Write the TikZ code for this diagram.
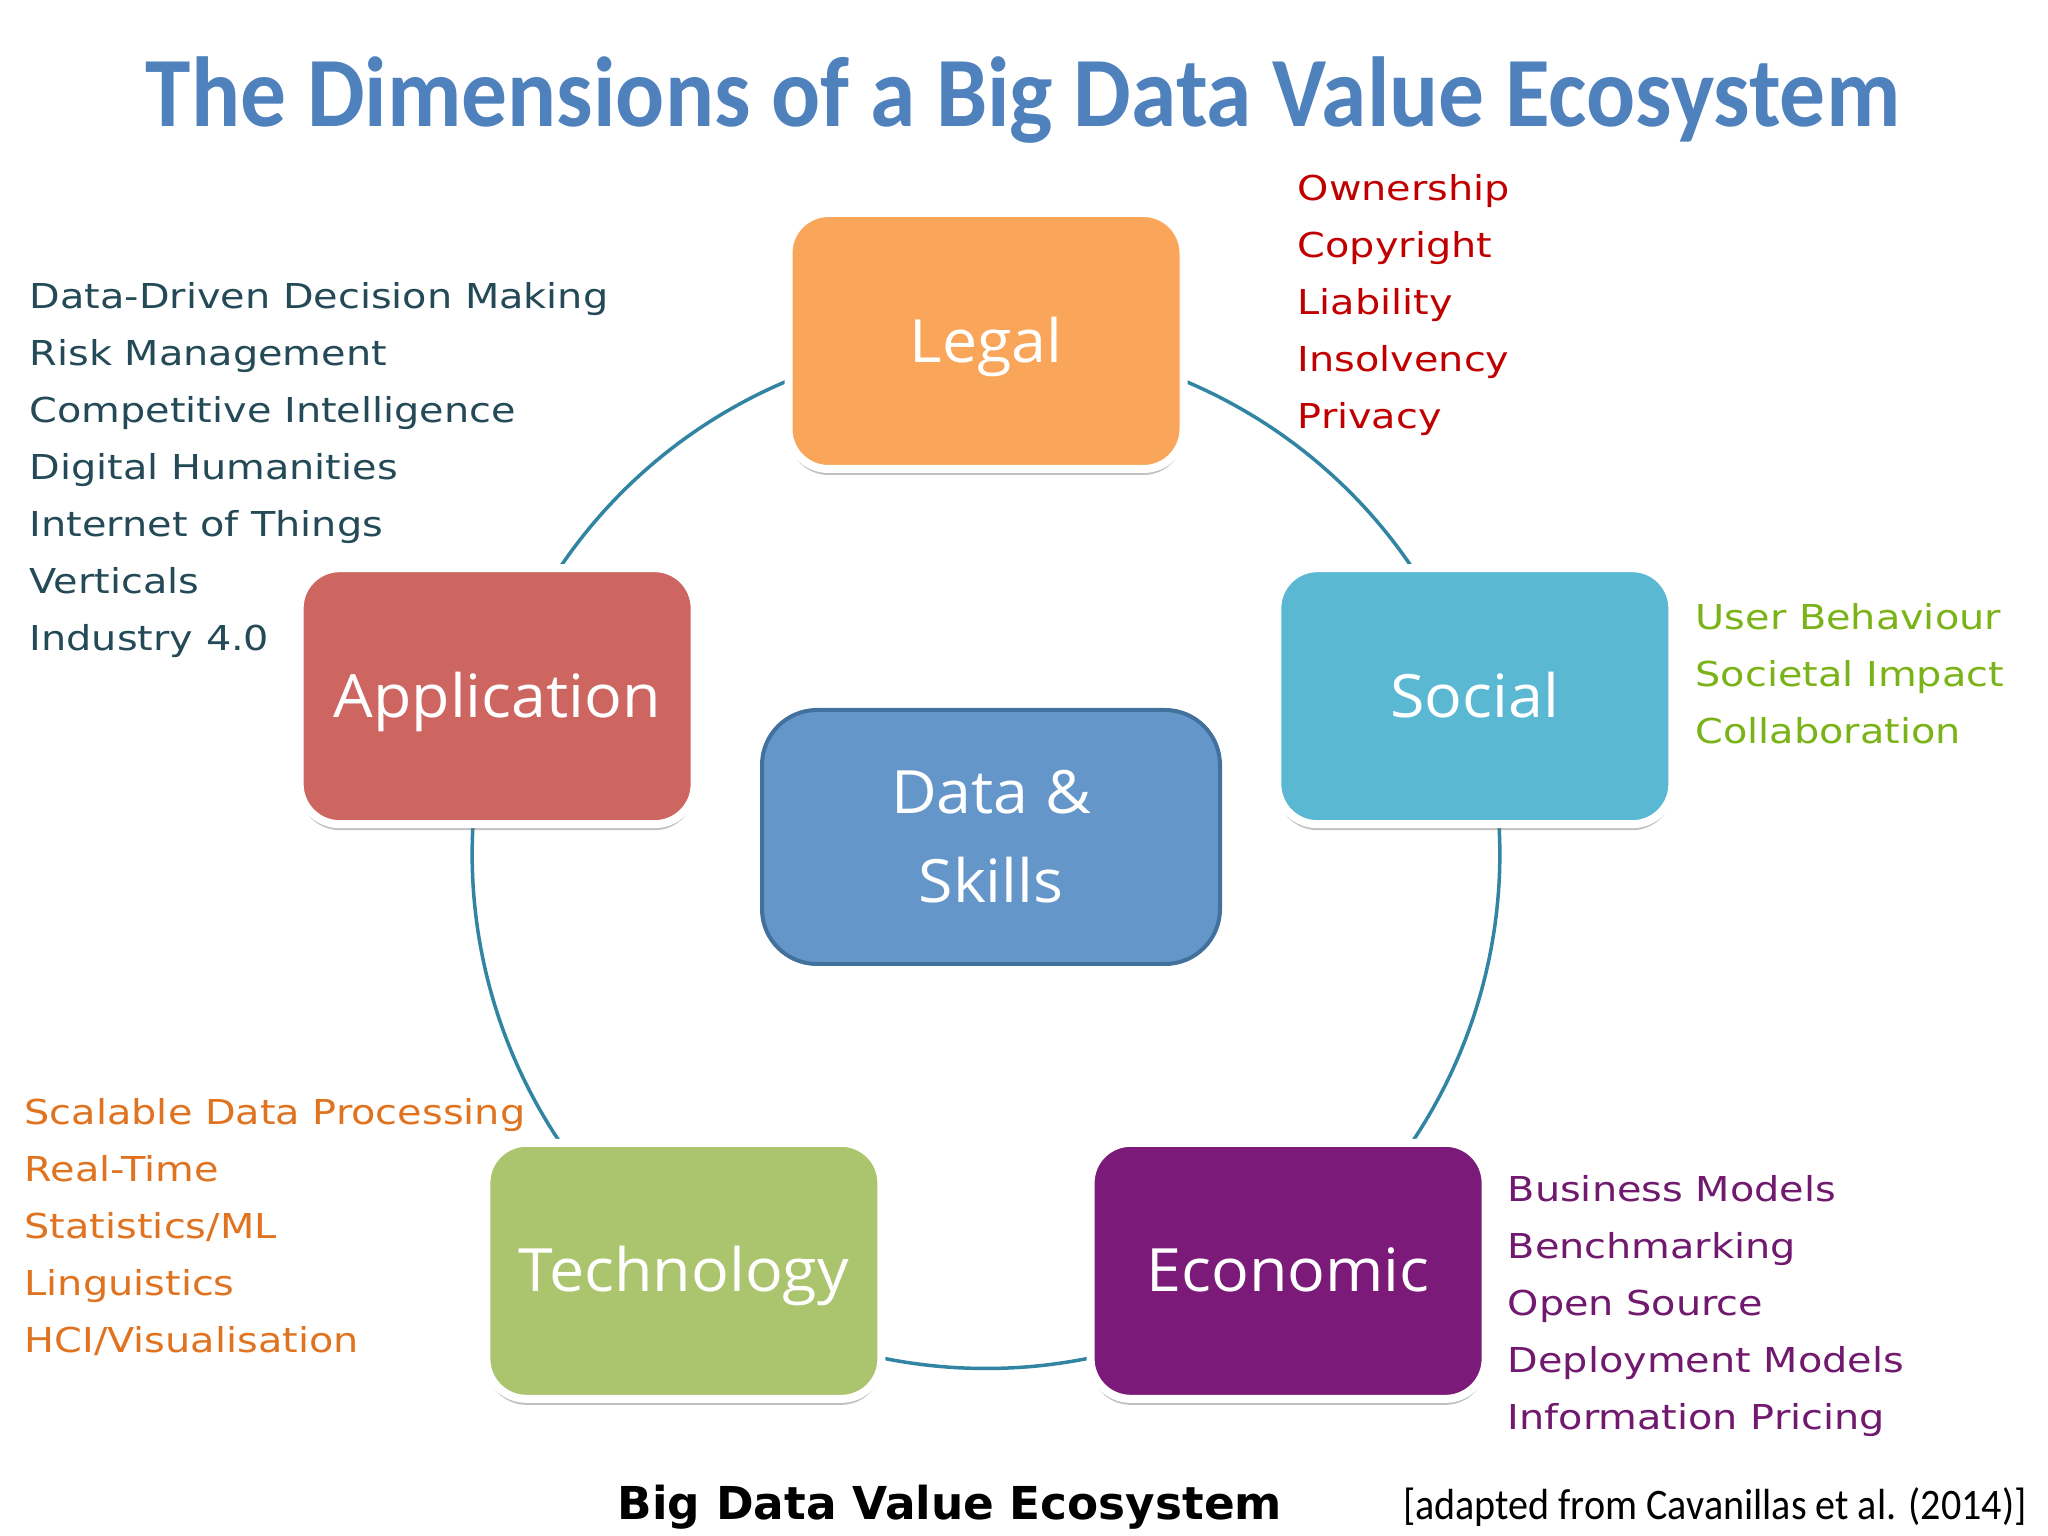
\documentclass[tikz,border=0pt]{standalone}
\usepackage{fontspec}
\setmainfont{DejaVu Sans}
\newfontfamily\itemfont[FakeStretch=1.16]{DejaVu Sans}
\newfontfamily\titlefont[FakeStretch=0.92]{Carlito}
\newfontfamily\boxfont[FakeStretch=1.05]{Open Sans}
\usetikzlibrary{shadows,backgrounds}

\definecolor{titleblue}{HTML}{4F81BD}
\definecolor{ringblue}{HTML}{3185A3}
\definecolor{legalorange}{HTML}{F9A65A}
\definecolor{appred}{HTML}{CD6660}
\definecolor{socialcyan}{HTML}{5BB8D3}
\definecolor{techgreen}{HTML}{ABC46E}
\definecolor{econpurple}{HTML}{7B1A78}
\definecolor{dataskill}{HTML}{6596C9}
\definecolor{dataedge}{HTML}{41719C}
\definecolor{legaltext}{HTML}{C00000}
\definecolor{apptext}{HTML}{234A56}
\definecolor{socialtext}{HTML}{7AB317}
\definecolor{techtext}{HTML}{E07320}
\definecolor{econtext}{HTML}{70196E}

\tikzset{
   dimbox/.style={rectangle, rounded corners=.4cm, draw=white, line width=.08cm,
      minimum width=3.95cm, minimum height=2.56cm, text=white,
      text height=12pt, text depth=0pt,
      font=\boxfont\fontsize{17}{25}\selectfont,
      drop shadow={shadow xshift=0pt, shadow yshift=-.06cm, opacity=.4, fill=black!60}},
   itemlist/.style={anchor=north west, inner sep=0pt, align=left,
      font=\itemfont\fontsize{9.76}{16.2}\selectfont},
   ring/.style={color=ringblue, line width=.035cm}
}

\begin{document}
\begin{tikzpicture}
   \useasboundingbox (0,0) rectangle (20.48,-15.36);

   \node[font=\titlefont\bfseries\fontsize{28.3}{34}\selectfont, text=titleblue, anchor=base]
      (title) at (10.23,-1.27) {The Dimensions of a Big Data Value Ecosystem};

   \coordinate (hub) at (9.86,-8.55);
   \node[dimbox, fill=legalorange] (legal) at ([shift={(90:5.14)}]hub) {Legal};
   \node[dimbox, fill=appred] (application) at ([shift={(162:5.14)}]hub) {Application};
   \node[dimbox, fill=socialcyan] (social) at ([shift={(18:5.14)}]hub) {Social};
   \node[dimbox, fill=techgreen] (technology) at ([shift={(234:5.14)}]hub) {Technology};
   \node[dimbox, fill=econpurple] (economic) at ([shift={(306:5.14)}]hub) {Economic};

   \node[rectangle, rounded corners=.55cm, draw=dataedge, line width=.04cm, fill=dataskill,
      minimum width=4.58cm, minimum height=2.54cm, text=white, align=center,
      font=\boxfont\fontsize{17}{25.3}\selectfont] (data) at (9.91,-8.37) {Data \&\\Skills};

   \node[itemlist, text=legaltext] (legalitems) at (12.97,-1.74)
      {Ownership\\Copyright\\Liability\\Insolvency\\Privacy};
   \node[itemlist, text=apptext] (appitems) at (0.29,-2.82)
      {Data-Driven Decision Making\\Risk Management\\Competitive Intelligence\\Digital Humanities\\Internet of Things\\Verticals\\Industry 4.0};
   \node[itemlist, text=socialtext] (socialitems) at (16.95,-6.03)
      {User Behaviour\\Societal Impact\\Collaboration};
   \node[itemlist, text=techtext] (techitems) at (0.24,-10.98)
      {Scalable Data Processing\\Real-Time\\Statistics/ML\\Linguistics\\HCI/Visualisation};
   \node[itemlist, text=econtext] (econitems) at (15.07,-11.75)
      {Business Models\\Benchmarking\\Open Source\\Deployment Models\\Information Pricing};

   \node[font=\bfseries\fontsize{12.9}{15}\selectfont, anchor=base] (caption) at (9.50,-15.19)
      {Big Data Value Ecosystem};
   \node[font=\titlefont\fontsize{12.4}{15}\selectfont, anchor=base east] (source) at (20.39,-15.19)
      {[adapted from Cavanillas et al. (2014)]};

   \begin{pgfonlayer}{background}
   \fill[white] (0,0) rectangle (20.48,-15.36);
   \draw[ring] (legal.center) to[bend right=36, looseness=.94] (application.center);
   \draw[ring] (application.center) to[bend right=36, looseness=.94] (technology.center);
   \draw[ring] (technology.center) to[bend right=36, looseness=.94] (economic.center);
   \draw[ring] (economic.center) to[bend right=36, looseness=.94] (social.center);
   \draw[ring] (social.center) to[bend right=36, looseness=.94] (legal.center);
   \end{pgfonlayer}
\end{tikzpicture}
\end{document}
